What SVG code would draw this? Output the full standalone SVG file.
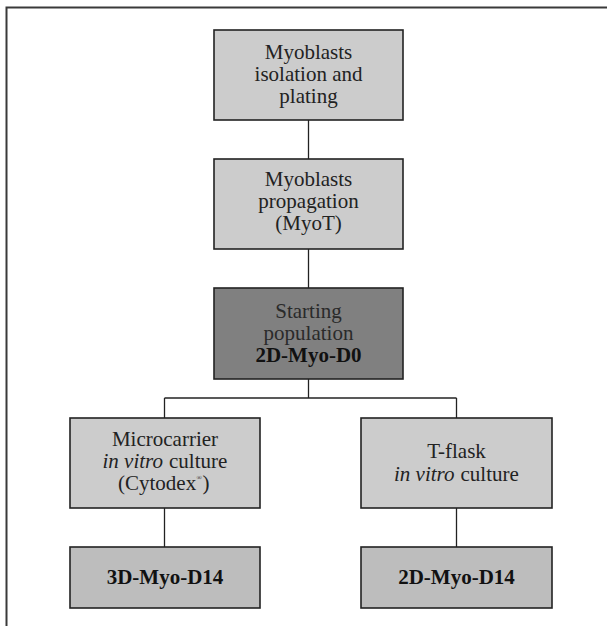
<svg xmlns="http://www.w3.org/2000/svg" width="607" height="626" viewBox="0 0 607 626">
<style>
.box{stroke:#222;stroke-width:1.6}
.l{fill:#cccccc}
.d{fill:#808080}
.m{fill:#bdbdbd}
text{font-family:"Liberation Serif","Times New Roman",serif;font-size:21px;fill:#222;text-anchor:middle}
.s{text-anchor:start}
.i{font-style:italic}
.b{font-weight:bold;fill:#111}
.dt{fill:#2a2a2a}
text.sup{font-size:7px}
.con{stroke:#222;stroke-width:1.3;fill:none}
</style>
<rect width="607" height="626" fill="#fff"/>
<path d="M607,7.5 H6.5 V626" fill="none" stroke="#3a3a3a" stroke-width="2"/>
<g id="connectors">
<line class="con" x1="308.5" y1="120" x2="308.5" y2="159"/>
<line class="con" x1="308.5" y1="249" x2="308.5" y2="288"/>
<line class="con" x1="308.5" y1="379" x2="308.5" y2="398"/>
<line class="con" x1="164.5" y1="398" x2="456.5" y2="398"/>
<line class="con" x1="164.5" y1="398" x2="164.5" y2="418"/>
<line class="con" x1="456.5" y1="398" x2="456.5" y2="418"/>
<line class="con" x1="164.5" y1="508" x2="164.5" y2="547"/>
<line class="con" x1="456.5" y1="508" x2="456.5" y2="547"/>
</g>
<g id="n1">
<rect class="box l" x="214" y="30" width="189" height="90"/>
<text x="308.5" y="59">Myoblasts</text>
<text x="308.5" y="81">isolation and</text>
<text x="308.5" y="103">plating</text>
</g>
<g id="n2">
<rect class="box l" x="214" y="159" width="189" height="90"/>
<text x="308.5" y="186">Myoblasts</text>
<text x="308.5" y="208">propagation</text>
<text x="308.5" y="230">(MyoT)</text>
</g>
<g id="n3">
<rect class="box d" x="214" y="288" width="189" height="91"/>
<text class="dt" x="308.5" y="318">Starting</text>
<text class="dt" x="308.5" y="340">population</text>
<text class="b" x="308.5" y="362">2D-Myo-D0</text>
</g>
<g id="n4">
<rect class="box l" x="70" y="418" width="190" height="90"/>
<text x="165" y="446">Microcarrier</text>
<text class="s i" x="102.5" y="468">in vitro</text>
<text class="s" x="169" y="468">culture</text>
<text class="s" x="118" y="490">(Cytodex</text>
<text class="s sup" x="196.5" y="480">®</text>
<text class="s" x="202.5" y="490">)</text>
</g>
<g id="n5">
<rect class="box l" x="361" y="418" width="191" height="90"/>
<text x="456.5" y="458">T-flask</text>
<text class="s i" x="394" y="481">in vitro</text>
<text class="s" x="460.5" y="481">culture</text>
</g>
<g id="n6">
<rect class="box m" x="70" y="547" width="190" height="61"/>
<text class="b" x="165" y="584">3D-Myo-D14</text>
</g>
<g id="n7">
<rect class="box m" x="361" y="547" width="191" height="61"/>
<text class="b" x="456.5" y="584">2D-Myo-D14</text>
</g>
</svg>
